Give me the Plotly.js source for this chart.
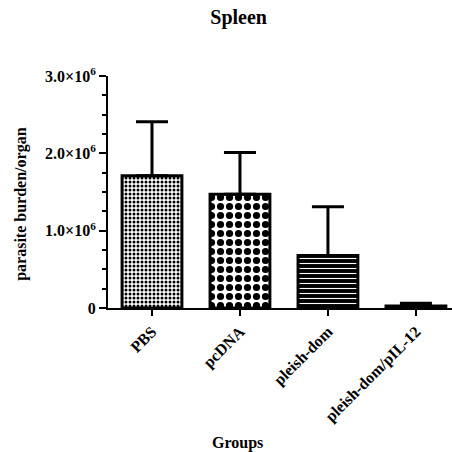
<!DOCTYPE html>
<html>
<head>
<meta charset="utf-8">
<script src="https://cdn.plot.ly/plotly-3.0.1.min.js"></script>
<style>html,body{margin:0;padding:0;background:#fff;}</style>
</head>
<body>
<div id="chart" style="width:452px;height:452px;"></div>
<script>
var categories = ["PBS", "pcDNA", "pleish-dom", "pleish-dom/pIL-12"];
var means = [1710000, 1470000, 680000, 25000];
var sems = [700000, 540000, 630000, 35000];
var yTickVals = [0, 1000000, 2000000, 3000000];
var yTickText = ["0", "1.0×10<sup>6</sup>", "2.0×10<sup>6</sup>", "3.0×10<sup>6</sup>"];

var fontFam = "Liberation Serif, serif";

var styles = [
  {shape: ".", size: 4, solidity: 0.45, fg: "black", bg: "white"},
  {shape: ".", size: 9, solidity: 0.5, fg: "black", bg: "white"},
  {shape: "-", size: 5, solidity: 0.22, fg: "white", bg: "black"},
  {shape: "", size: 8, solidity: 0.3, fg: "black", bg: "black"}
];

var traces = categories.map(function (c, i) {
  var s = styles[i];
  var m = {color: s.bg, line: {color: "black", width: 3}};
  if (s.shape) {
    m.pattern = {shape: s.shape, size: s.size, solidity: s.solidity, fgcolor: s.fg, bgcolor: s.bg, fgopacity: 1, fillmode: "replace"};
  }
  return {
    type: "bar",
    x: [c],
    y: [means[i]],
    width: 0.68,
    marker: m,
    error_y: {
      type: "data", symmetric: false,
      array: [sems[i]], arrayminus: [0],
      thickness: 3, width: 16, color: "black"
    },
    hoverinfo: "none"
  };
});

var layout = {
  width: 452,
  height: 452,
  margin: {l: 108, r: 0, t: 76, b: 144, pad: 0},
  paper_bgcolor: "white",
  plot_bgcolor: "white",
  showlegend: false,
  barmode: "overlay",
  font: {family: fontFam, color: "black"},
  title: {
    text: "<b>Spleen</b>",
    font: {family: fontFam, size: 20, color: "black"},
    xref: "container", x: 0.528, xanchor: "center",
    yref: "container", y: 0.962, yanchor: "middle"
  },
  xaxis: {
    type: "category",
    categoryorder: "array", categoryarray: categories,
    range: [-0.5, 3.41],
    showline: true, linecolor: "black", linewidth: 2,
    ticks: "outside", ticklen: 6, tickwidth: 2, tickcolor: "black",
    tickangle: -45,
    tickvals: categories,
    ticktext: categories.map(function (c) { return "<b>" + c + "</b>"; }),
    tickfont: {family: fontFam, size: 16, color: "black"},
    showgrid: false, zeroline: false
  },
  yaxis: {
    range: [0, 3000000],
    tickmode: "array",
    tickvals: yTickVals,
    ticktext: yTickText.map(function (t) { return "<b>" + t + "</b>"; }),
    showline: true, linecolor: "black", linewidth: 2,
    ticks: "outside", ticklen: 7, tickwidth: 2, tickcolor: "black",
    minor: {dtick: 250000, ticks: "outside", ticklen: 4, tickwidth: 2, tickcolor: "black", showgrid: false},
    tickfont: {family: fontFam, size: 16, color: "black"},
    showgrid: false, zeroline: false
  },
  annotations: [{
    text: "<b>Groups</b>",
    xref: "paper", yref: "paper",
    x: 0.375, y: -0.583,
    xanchor: "center", yanchor: "middle",
    showarrow: false,
    font: {family: fontFam, size: 16, color: "black"}
  }, {
    text: "<b>parasite burden/organ</b>",
    xref: "paper", yref: "paper",
    x: -0.253, y: 0.449,
    xanchor: "center", yanchor: "middle",
    textangle: -90,
    showarrow: false,
    font: {family: fontFam, size: 16, color: "black"}
  }]
};

Plotly.newPlot("chart", traces, layout, {displayModeBar: false, staticPlot: true});
</script>
</body>
</html>
